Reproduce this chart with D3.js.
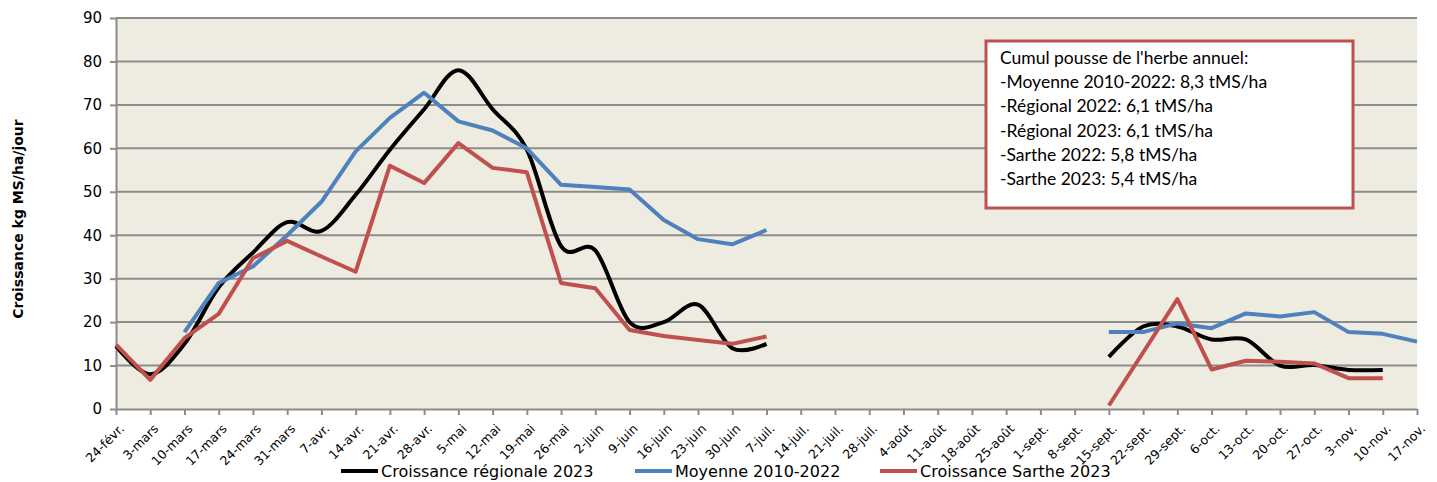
<!DOCTYPE html>
<html>
<head>
<meta charset="utf-8">
<script src="https://cdn.jsdelivr.net/npm/d3@7"></script>
<style>
  body { margin: 0; background: #fff; }
  svg { display: block; }
</style>
</head>
<body>
<svg id="chart" width="1437" height="482"></svg>
<script>
// week labels (x axis)
var weeks = ["24-févr.", "3-mars", "10-mars", "17-mars", "24-mars", "31-mars", "7-avr.", "14-avr.",
    "21-avr.", "28-avr.", "5-mai", "12-mai", "19-mai", "26-mai", "2-juin", "9-juin", "16-juin",
    "23-juin", "30-juin", "7-juil.", "14-juil.", "21-juil.", "28-juil.", "4-août", "11-août",
    "18-août", "25-août", "1-sept.", "8-sept.", "15-sept.", "22-sept.", "29-sept.", "6-oct.",
    "13-oct.", "20-oct.", "27-oct.", "3-nov.", "10-nov.", "17-nov."];

var yTicks = [0, 10, 20, 30, 40, 50, 60, 70, 80, 90];

// Croissance régionale 2023
var regional2023 = [14.5, 8, 15, 28, 36, 43, 41, 49.3, 59.7, 69, 78, 69, 59.7, 37.5, 36.5, 20, 20,
    24, 14, 15, null, null, null, null, null, null, null, null, null,
    12, 19, 19, 16, 16, 10, 10.1, 9, 9, null];

// Moyenne 2010-2022
var moyenne = [null, null, 17.7, 29, 32.8, 40, 47.7, 59.3, 67, 72.8, 66.2, 64.1, 60, 51.6, 51.1,
    50.5, 43.5, 39.1, 37.9, 41.2, null, null, null, null, null, null, null, null, null,
    17.7, 17.7, 19.7, 18.6, 22, 21.3, 22.3, 17.7, 17.3, 15.5];

// Croissance Sarthe 2023
var sarthe2023 = [14.8, 6.7, 16.3, 21.9, 34.7, 38.7, 35.1, 31.6, 56, 52, 61.2, 55.5, 54.5, 29,
    27.8, 18.2, 16.8, 15.9, 15, 16.7, null, null, null, null, null, null, null, null, null,
    0.8, 13, 25.3, 9.1, 11.1, 10.9, 10.5, 7.1, 7.1, null];

var boxLines = ["Cumul pousse de l'herbe annuel:",
    "-Moyenne 2010-2022: 8,3 tMS/ha",
    "-Régional 2022: 6,1 tMS/ha",
    "-Régional 2023: 6,1 tMS/ha",
    "-Sarthe 2022: 5,8 tMS/ha",
    "-Sarthe 2023: 5,4 tMS/ha"];

var seriesList = [
    { name: "Croissance régionale 2023", values: regional2023, color: "#000000", smooth: true },
    { name: "Moyenne 2010-2022", values: moyenne, color: "#4F81BD", smooth: false },
    { name: "Croissance Sarthe 2023", values: sarthe2023, color: "#C0504D", smooth: false }
];

var svg = d3.select("#chart");
var plotLeft = 116, plotRight = 1417, plotTop = 18, plotBottom = 409;

var x = d3.scalePoint().domain(weeks).range([plotLeft, plotRight]);
var y = d3.scaleLinear().domain([0, 90]).range([plotBottom, plotTop]);

// plot background
svg.append("rect")
    .attr("x", plotLeft).attr("y", plotTop)
    .attr("width", plotRight - plotLeft).attr("height", plotBottom - plotTop)
    .attr("fill", "#EEEBE0");

// horizontal grid
svg.append("g").selectAll("line")
    .data(yTicks.slice(1))
    .join("line")
    .attr("x1", plotLeft).attr("x2", plotRight)
    .attr("y1", function(d) { return y(d); })
    .attr("y2", function(d) { return y(d); })
    .attr("stroke", "#8C8C8C").attr("stroke-width", 2);

// y axis
var yAxis = svg.append("g")
    .attr("transform", "translate(" + plotLeft + ",0)")
    .call(d3.axisLeft(y).tickValues(yTicks).tickSize(6).tickPadding(8).tickSizeOuter(0));
yAxis.select(".domain").attr("stroke", "#8C8C8C").attr("stroke-width", 2);
yAxis.selectAll(".tick line").attr("stroke", "#8C8C8C").attr("stroke-width", 2);
yAxis.selectAll("text")
    .attr("font-family", "DejaVu Sans, Verdana, sans-serif")
    .attr("font-size", 15).attr("fill", "#000");

// x axis
var xAxis = svg.append("g")
    .attr("transform", "translate(0," + plotBottom + ")")
    .call(d3.axisBottom(x).tickSize(6).tickSizeOuter(0));
xAxis.select(".domain").attr("stroke", "#8C8C8C").attr("stroke-width", 2);
xAxis.selectAll(".tick line").attr("stroke", "#8C8C8C").attr("stroke-width", 2);
xAxis.selectAll("text")
    .attr("font-family", "DejaVu Sans, Verdana, sans-serif")
    .attr("font-size", 12.5).attr("fill", "#000")
    .attr("text-anchor", "end")
    .attr("dy", null)
    .attr("transform", "translate(6,18) rotate(-45)")
    .attr("y", 0).attr("x", 0)
    .attr("dominant-baseline", "middle");

// y axis title
svg.append("text")
    .attr("transform", "translate(23,219) rotate(-90)")
    .attr("text-anchor", "middle")
    .attr("font-family", "DejaVu Sans, Verdana, sans-serif")
    .attr("font-size", 14).attr("font-weight", "bold")
    .text("Croissance kg MS/ha/jour");

// series lines
seriesList.forEach(function(s) {
    var line = d3.line()
        .defined(function(d) { return d != null; })
        .x(function(d, i) { return x(weeks[i]); })
        .y(function(d) { return y(d); })
        .curve(s.smooth ? d3.curveCatmullRom.alpha(0) : d3.curveLinear);
    svg.append("path")
        .datum(s.values)
        .attr("d", line)
        .attr("fill", "none")
        .attr("stroke", s.color)
        .attr("stroke-width", 4)
        .attr("stroke-linejoin", "round")
        .attr("stroke-linecap", "butt");
});

// annotation box
svg.append("rect")
    .attr("x", 986).attr("y", 41)
    .attr("width", 367).attr("height", 167)
    .attr("fill", "#fff")
    .attr("stroke", "#C0504D").attr("stroke-width", 3);
svg.append("g").selectAll("text")
    .data(boxLines)
    .join("text")
    .attr("x", 1000)
    .attr("y", function(d, i) { return 64 + i * 24.2; })
    .attr("font-family", "Lato, Open Sans, sans-serif")
    .attr("font-size", 17.5).attr("fill", "#000")
    .text(function(d) { return d; });

// legend
var legendX = [341, 635, 880];
var legend = svg.append("g").selectAll("g")
    .data(seriesList)
    .join("g")
    .attr("transform", function(d, i) { return "translate(" + legendX[i] + ",471)"; });
legend.append("line")
    .attr("x1", 0).attr("x2", 37)
    .attr("stroke", function(d) { return d.color; })
    .attr("stroke-width", 4);
legend.append("text")
    .attr("x", 40).attr("y", 6)
    .attr("font-family", "DejaVu Sans, Verdana, sans-serif")
    .attr("font-size", 16).attr("fill", "#000")
    .text(function(d) { return d.name; });
</script>
</body>
</html>
